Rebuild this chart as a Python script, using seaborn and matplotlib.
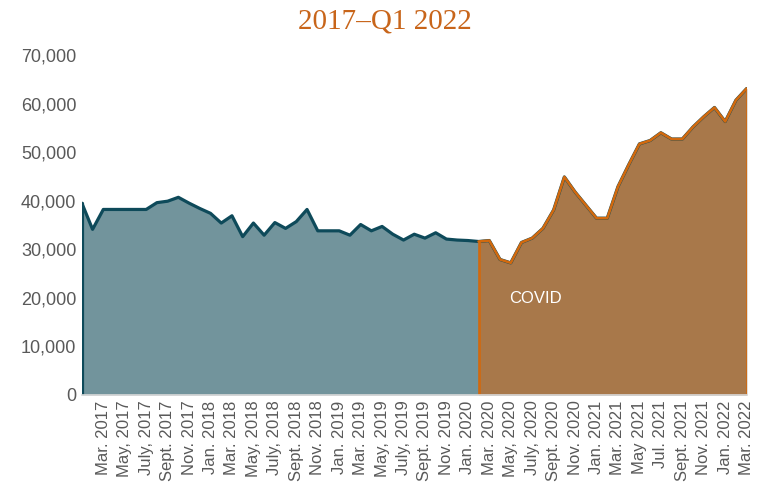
import matplotlib
matplotlib.use("Agg")
import matplotlib.pyplot as plt
import seaborn as sns
import pandas as pd
import numpy as np

sns.set_theme(style="white")
plt.rcParams['font.family'] = ['Liberation Sans', 'DejaVu Sans']

# monthly values, Jan 2017 .. Mar 2022
valores = [39500, 34100, 38200, 38200, 38200, 38200, 38200, 39600, 39900, 40700,
           39500, 38400, 37400, 35400, 36900, 32600, 35400, 32900, 35500, 34300,
           35700, 38200, 33800, 33800, 33800, 32900, 35100, 33800, 34700, 33100,
           31900, 33100, 32300, 33400, 32100, 31900, 31800, 31600, 31800, 27900,
           27200, 31400, 32300, 34300, 38100, 44900, 41800, 39100, 36400, 36400,
           42900, 47400, 51700, 52400, 54000, 52700, 52700, 55200, 57300, 59200,
           56300, 60700, 63100]

inicio_covid = 37  # Feb 2020

etiquetas = ["Mar. 2017", "May, 2017", "July, 2017", "Sept. 2017", "Nov. 2017",
             "Jan. 2018", "Mar. 2018", "May, 2018", "July, 2018", "Sept. 2018", "Nov. 2018",
             "Jan. 2019", "Mar. 2019", "May, 2019", "July, 2019", "Sept. 2019", "Nov. 2019",
             "Jan. 2020", "Mar. 2020", "May, 2020", "July, 2020", "Sept. 2020", "Nov. 2020",
             "Jan. 2021", "Mar. 2021", "May 2021", "Jul. 2021", "Sept. 2021", "Nov. 2021",
             "Jan. 2022", "Mar. 2022"]

datos = pd.DataFrame({'mes': np.arange(len(valores)), 'valor': valores})
covid = datos[datos['mes'] >= inicio_covid]

azul_fill = "#72949c"
azul_line = "#0e4a5a"
naranja_fill = "#a8784a"
naranja_line = "#d2690e"

fig = plt.figure(figsize=(7.65, 4.87), dpi=100)
ax = fig.add_axes([0.107, 0.189, 0.869, 0.698])

# pre-covid area (whole series behind)
ax.fill_between(datos['mes'], 0, datos['valor'], color=azul_fill, lw=0)
sns.lineplot(ax=ax, x="mes", y="valor", data=datos, color=azul_line, lw=2.3)
ax.plot([datos['mes'].iloc[0]] * 2, [0, datos['valor'].iloc[0]], color=azul_line, lw=2.3)

# covid area
ax.fill_between(covid['mes'], 0, covid['valor'], color=naranja_fill, lw=0)
sns.lineplot(ax=ax, x="mes", y="valor", data=covid, color=naranja_line, lw=1.9)
ax.plot([covid['mes'].iloc[0]] * 2, [0, covid['valor'].iloc[0]], color=naranja_line, lw=1.9)
ax.plot([covid['mes'].iloc[-1]] * 2, [0, covid['valor'].iloc[-1]], color=naranja_line, lw=1.9)

ax.text(42.3, 19800, "COVID", color="white", fontsize=12, ha="center", va="center")

ax.set_xlim(0, len(valores) - 1)
ax.set_ylim(0, 70000)
ax.set_yticks(range(0, 70001, 10000))
ax.set_yticklabels([f"{v:,}" for v in range(0, 70001, 10000)], fontsize=13, color="#595959")
ax.set_xticks(np.arange(2, len(valores), 2))
ax.set_xticklabels(etiquetas, rotation=90, fontsize=12, color="#595959")
ax.tick_params(axis='both', length=0, pad=4)
ax.set_xlabel("")
ax.set_ylabel("")

for s in ['top', 'right', 'left']:
    ax.spines[s].set_visible(False)
ax.spines['bottom'].set_color("#d9d9d9")
ax.spines['bottom'].set_linewidth(1.2)

fig.text(0.503, 0.955, "2017\u2013Q1 2022", fontsize=21, color="#c8651a",
         family=["Liberation Serif", "DejaVu Serif"], ha="center", va="center")

fig.savefig("out.png", dpi=100)
